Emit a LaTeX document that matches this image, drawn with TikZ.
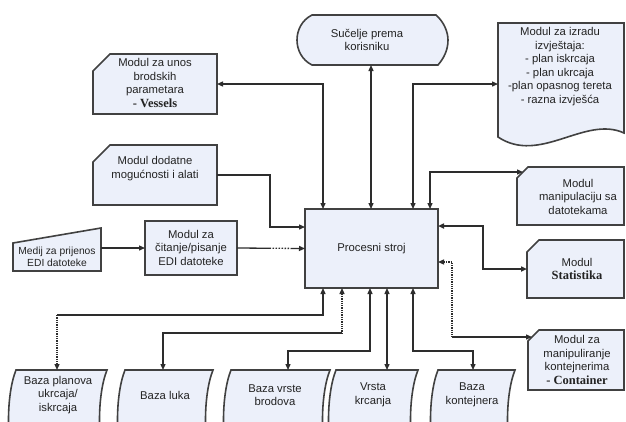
\documentclass[tikz,border=0pt]{standalone}
\usepackage{fontspec}
\setmainfont{Liberation Sans}
\newfontfamily\serifbold{Liberation Serif}
\usetikzlibrary{arrows.meta}
\definecolor{boxblue}{RGB}{236,240,250}
\definecolor{edgec}{RGB}{65,65,65}
\definecolor{linec}{RGB}{45,45,45}
\definecolor{txtc}{RGB}{35,35,35}
\newcommand\mycutbox[6]{%
  \node[anchorbox, minimum width=#4pt, minimum height=#5pt] (#1) at (#2,#3) {};
  \filldraw[boxst] (#1.south west) -- (#1.south east) -- (#1.north east) -- ([xshift=#6pt]#1.north west) -- ([yshift=-#6pt]#1.north west) -- cycle;}
\newcommand\mystored[2]{%
  \filldraw[boxst] (#1+8,370) -- (#2,370) .. controls (#2-10,395) and (#2-10,445) .. (#2,470) -- (#1+8,470) .. controls (#1-2,445) and (#1-2,395) .. (#1+8,370) -- cycle;}
\newcommand\boldword[1]{{\serifbold\bfseries\fontsize{12.5}{13.5}\selectfont #1}}
\begin{document}
\begin{tikzpicture}[x=1pt,y=-1pt,
  >={Triangle[length=6pt,width=5pt]},
  boxst/.style={fill=boxblue, draw=edgec, line width=1.6pt, line join=miter},
  anchorbox/.style={inner sep=0pt, outer sep=0pt, rectangle},
  conn/.style={draw=linec, line width=1.3pt},
  heavy/.style={line width=2pt},
  txt/.style={font=\fontsize{11.3}{13.5}\selectfont, align=center, inner sep=0pt, text=txtc},
  smalltxt/.style={txt, font=\fontsize{10.3}{12}\selectfont}]
\useasboundingbox (0,0) rectangle (626,421);
\fill[white] (0,0) rectangle (626,421);
\begin{scope}
\clip (0,0) rectangle (626,421);

% ---- shapes ----
\mycutbox{V}{155}{84}{124}{60}{17}
\mycutbox{A}{155}{175}{124}{60}{17}
\node[boxst, anchorbox, minimum width=92pt, minimum height=54pt] (E) at (191,248) {};
\node[boxst, anchorbox, minimum width=133pt, minimum height=79pt] (P) at (371.5,248.5) {};
\mycutbox{M}{570.5}{196}{107}{58}{11}
\mycutbox{S}{575.5}{269}{97}{58}{12}
\mycutbox{C}{576}{360}{96}{60}{11}

% Sucelje (display shape)
\filldraw[boxst] (312,15) -- (436,15) .. controls (444,22) and (448,32) .. (448,40) .. controls (448,50) and (444,58) .. (438,65) -- (312,65) .. controls (302,60) and (297,50) .. (297,40) .. controls (297,30) and (302,20) .. (312,15) -- cycle;
\coordinate (Sout) at (371,65);

% report (document shape)
\filldraw[boxst] (498,23) -- (624,23) -- (624,133) .. controls (585,115) and (540,165) .. (498,137) -- cycle;
\coordinate (Rin) at (498,84);

% Medij (manual input)
\filldraw[boxst] (13,243) -- (101,228) -- (101,271) -- (13,271) -- cycle;
\coordinate (Mout) at (101,248);

% databases
\mystored{8}{107}
\mystored{117}{213}
\mystored{223}{330}
\mystored{328}{418}
\mystored{430}{515}
\coordinate (D1) at (57,370);
\coordinate (D2) at (163,370);
\coordinate (D3) at (288,370);
\coordinate (D4) at (387,370);
\coordinate (D5) at (473,370);

% ---- texts ----
\node[txt] (Pt) at (P) {Procesni stroj};
\node[txt] (Vt) at (155,83) {Modul za unos\\brodskih\\parametara\\\boldword{- Vessels}};
\node[txt] (At) at (155,168.5) {Modul dodatne\\mogućnosti i alati};
\node[txt] (Et) at (191,247.5) {Modul za\\čitanje/pisanje\\EDI datoteke};
\node[smalltxt] (Mt) at (57,256.5) {Medij za prijenos\\EDI datoteke};
\node[txt] (St) at (367,40) {Sučelje prema\\korisniku};
\node[txt] (Rt) at (560,66.5) {Modul za izradu\\izvještaja:\\- plan iskrcaja\\- plan ukrcaja\\-plan opasnog tereta\\- razna izvješća};
\node[txt] (Mnt) at (578,196.5) {Modul\\manipulaciju sa\\datotekama};
\node[txt] (Stt) at (577,269) {Modul\\\boldword{Statistika}};
\node[txt] (Ct) at (577,360) {Modul za\\manipuliranje\\kontejnerima\\\boldword{- Container}};
\node[txt] (D1t) at (58,395) {Baza planova\\ukrcaja/\\iskrcaja};
\node[txt] (D2t) at (165,395) {Baza luka};
\node[txt] (D3t) at (275,395) {Baza vrste\\brodova};
\node[txt] (D4t) at (373,395) {Vrsta\\krcanja};
\node[txt] (D5t) at (472,395) {Baza\\kontejnera};

% ---- connectors ----
\coordinate (Min) at (523,172);
\coordinate (Cin) at (532,337);
\coordinate (Cc) at (452,337);
\coordinate (K1) at (57,315);
\coordinate (K2) at (342,333);
\coordinate (K3) at (288,351);
\coordinate (K5) at (473,351);

\draw[conn,<->] ([xshift=-48.5pt]P.north) |- (V.east);
\draw[conn,<->] ([xshift=-0.5pt]P.north) -- (Sout);
\draw[conn,<->] ([xshift=41.5pt]P.north) |- (Rin);
\draw[conn,<->] ([xshift=58.5pt]P.north) |- (Min);
\draw[conn,->] (A.east) -- ++(53,0) |- ([yshift=21.5pt]P.west);
\draw[conn,->,dash pattern=on 34pt off 1.5pt on 1.5pt off 1.5pt on 1.5pt off 1.5pt on 1.5pt off 1.5pt on 1.5pt off 1.5pt on 1.5pt off 1.5pt on 1.5pt off 1.5pt on 40pt] (E.east) -- (P.west);
\draw[conn,->] (Mout) -- (E.west);
\draw[conn,heavy,<->] ([yshift=22.5pt]P.east) -- ++(45,0) |- (S.west);
\draw[conn,<-,densely dotted] ([yshift=-13.5pt]P.east) -| (Cc);
\draw[conn,->] (Cc) -- (Cin);

\draw[conn,<-] ([xshift=-48.5pt]P.south) |- (K1);
\draw[conn,->,densely dotted] (K1) -- (D1);
\draw[conn,<-,densely dotted] ([xshift=-29.5pt]P.south) -- (K2);
\draw[conn,->] (K2) -| (D2);
\draw[conn,<->] ([xshift=-1.5pt]P.south) |- (K3) -- (D3);
\draw[conn,<->] ([xshift=15.5pt]P.south) -- (D4);
\draw[conn,<->] ([xshift=41.5pt]P.south) |- (K5) -- (D5);
\end{scope}
\end{tikzpicture}
\end{document}
